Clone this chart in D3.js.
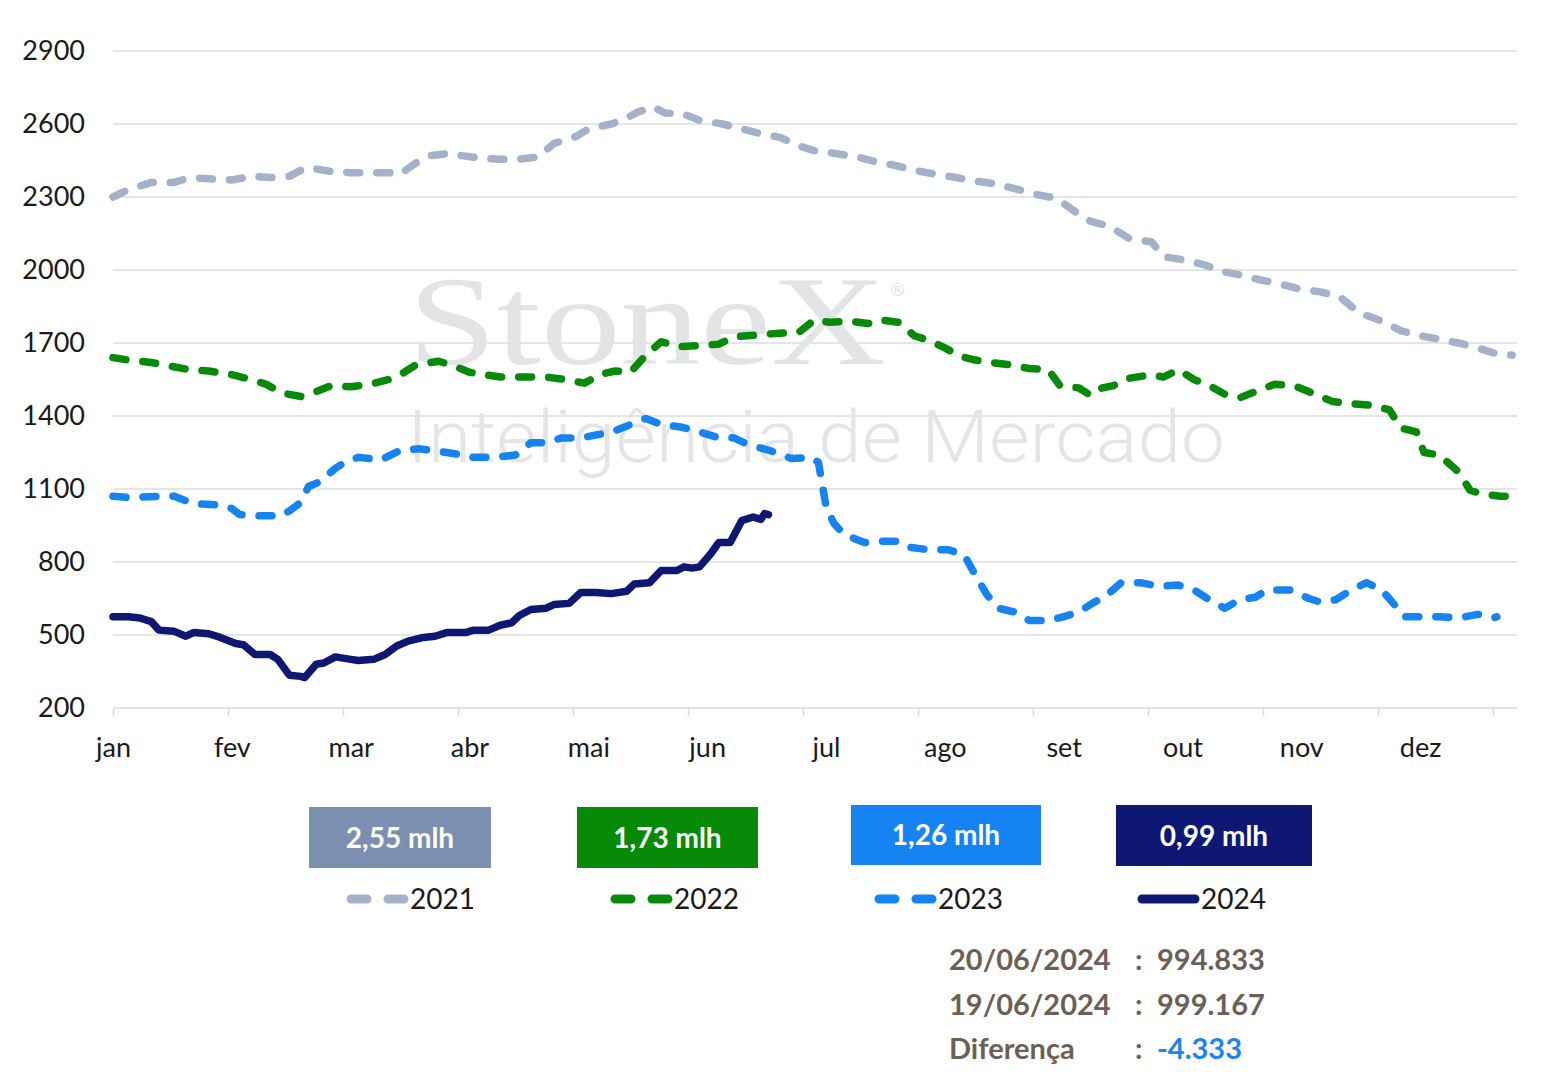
<!DOCTYPE html>
<html><head><meta charset="utf-8">
<script src="https://cdn.jsdelivr.net/npm/d3@7"></script>
<style>
html,body{margin:0;padding:0;background:#fff;}
</style></head>
<body>
<svg id="chart" width="1551" height="1076" style="font-family:Lato,'Noto Sans',sans-serif"></svg>
<script>
// ---------- DATA ----------
const monthLabels = ["jan","fev","mar","abr","mai","jun","jul","ago","set","out","nov","dez"];
const monthLabelDays = [0,31,62,93,124,155,186,217,248,279,310,341];
const tickDays = [0,30,60,90,120,150,180,210,240,270,300,330,360];
const yTicks = [200,500,800,1100,1400,1700,2000,2300,2600,2900];

const days2021 = [0,4,10,16,20,25,31,36,41,46,49,51,57,62,67,72,75,79,83,88,91,96,101,106,111,115,121,124,130,134,137,141,144,149,153,159,164,169,174,179,183,188,194,199,204,209,214,220,225,230,235,241,246,251,255,260,265,271,274,280,285,289,294,299,304,310,315,320,325,331,336,341,346,351,356,361,365];
const vals2021 = [2300,2330,2360,2360,2380,2375,2370,2385,2380,2385,2410,2420,2405,2400,2400,2400,2395,2440,2470,2480,2470,2460,2455,2455,2465,2520,2550,2580,2600,2625,2650,2670,2645,2640,2615,2600,2580,2560,2545,2510,2490,2480,2465,2445,2430,2410,2395,2380,2365,2355,2335,2310,2295,2240,2200,2180,2130,2115,2055,2040,2020,1995,1980,1960,1945,1920,1910,1890,1825,1790,1750,1730,1715,1700,1680,1655,1650];

const days2022 = [0,4,10,15,20,25,31,36,40,44,49,53,57,62,67,72,75,79,85,89,93,101,106,113,118,123,127,131,135,139,143,148,153,158,162,169,174,179,183,187,192,197,200,205,209,213,217,221,225,229,234,239,244,247,252,255,258,261,265,271,274,278,282,286,290,294,298,303,308,312,318,323,328,333,336,340,342,346,351,354,357,362,365];
const vals2022 = [1640,1630,1620,1605,1590,1585,1570,1550,1530,1495,1480,1500,1525,1520,1530,1550,1570,1610,1625,1605,1580,1560,1560,1560,1550,1535,1570,1585,1580,1650,1705,1685,1690,1695,1725,1735,1740,1745,1795,1785,1790,1780,1795,1785,1730,1710,1680,1645,1630,1620,1610,1595,1590,1525,1515,1485,1515,1525,1555,1570,1560,1590,1550,1525,1490,1475,1500,1530,1525,1500,1460,1450,1445,1425,1350,1335,1250,1240,1170,1095,1080,1070,1070];

const days2023 = [0,4,12,16,21,27,31,33,38,44,46,49,51,54,58,61,64,70,75,80,85,91,94,100,105,109,113,117,122,127,131,135,139,143,148,153,157,162,166,171,177,182,184,186,188,190,192,196,200,205,208,213,218,222,225,228,231,235,239,244,248,252,256,259,263,268,273,278,282,286,290,294,298,301,307,312,315,319,323,327,331,334,337,341,346,351,356,360,361];
const vals2023 = [1070,1065,1070,1070,1040,1035,1020,995,990,990,1010,1045,1110,1130,1185,1215,1230,1220,1260,1265,1255,1240,1230,1230,1240,1290,1290,1310,1310,1325,1340,1365,1390,1365,1355,1335,1315,1310,1280,1260,1225,1230,1210,1030,960,925,905,880,885,885,860,850,850,830,745,665,610,595,560,560,575,595,635,660,715,715,700,705,685,645,610,645,655,685,685,650,635,645,685,715,685,630,575,575,575,570,585,570,575];

const days2024 = [0,4,7,10,12,16,19,21,25,28,32,34,37,41,43,46,49,50,53,55,58,62,64,68,71,74,77,81,84,87,92,94,98,101,104,106,109,113,115,119,122,126,130,134,136,140,143,147,149,151,153,156,158,161,164,167,169,170,171];
const vals2024 = [575,575,570,555,520,515,495,510,505,490,465,460,420,420,400,335,330,325,380,385,410,400,395,400,420,455,475,490,495,510,510,520,520,540,550,580,605,610,625,630,675,675,670,680,710,715,765,765,780,775,780,835,880,880,970,985,975,999.167,994.833];

const seriesNames = ["2021","2022","2023","2024"];
const seriesColors = ["#a3b2c8","#078a07","#1684f0","#0e1873"];
const boxColors = ["#7b90b0","#078a07","#1584f2","#0e1874"];
const boxLabels = ["2,55 mlh","1,73 mlh","1,26 mlh","0,99 mlh"];
const infoLabels = ["20/06/2024","19/06/2024","Diferença"];
const infoValues = ["994.833","999.167","-4.333"];

// ---------- CHART ----------
const svg = d3.select("#chart");
const x = d3.scaleLinear().domain([0,366]).range([113,1516]);
const y = d3.scaleLinear().domain([200,2900]).range([708,51]);

// gridlines
svg.append("g").selectAll("line").data(yTicks.slice(1)).join("line")
  .attr("x1",113).attr("x2",1517)
  .attr("y1",d=>y(d)).attr("y2",d=>y(d))
  .attr("stroke","#dcdcdc").attr("stroke-width",1.5);

// watermark
svg.append("text").attr("x",408).attr("y",364).style("font-family","'Liberation Serif','DejaVu Serif',serif")
  .attr("font-size",128).attr("fill","#e3e4e6").attr("textLength",478).attr("lengthAdjust","spacingAndGlyphs").text("StoneX");
svg.append("text").attr("x",890).attr("y",296).attr("font-size",18).attr("fill","#e3e4e6").text("®");
svg.append("text").attr("x",407).attr("y",462).style("font-family","Roboto,Lato,sans-serif").attr("font-weight",300)
  .attr("font-size",72).attr("fill","#e4e5e7").attr("textLength",818).attr("lengthAdjust","spacingAndGlyphs").text("Inteligência de Mercado");

// x axis
const xAxis = svg.append("g").attr("transform","translate(0,708)")
  .call(d3.axisBottom(x).tickValues(tickDays).tickSize(8).tickFormat(""));
xAxis.select(".domain").attr("stroke","#d9d9d9").attr("stroke-width",1.5).attr("d","M113,0H1517");
xAxis.selectAll(".tick line").attr("stroke","#d9d9d9").attr("stroke-width",1.5);

const xLab = svg.append("g").attr("transform","translate(0,708)")
  .call(d3.axisBottom(x).tickValues(monthLabelDays).tickSize(0).tickPadding(30).tickFormat((d,i)=>monthLabels[i]));
xLab.select(".domain").remove();
xLab.selectAll("text").style("font-family","Lato,sans-serif").attr("font-size",27).attr("fill","#1a1a1a");

// y axis
const yAx = svg.append("g").attr("transform","translate(113,0)")
  .call(d3.axisLeft(y).tickValues(yTicks).tickSize(0).tickPadding(28).tickFormat(d3.format("d")));
yAx.select(".domain").remove();
yAx.selectAll("text").style("font-family","Lato,sans-serif").attr("font-size",27).attr("fill","#1a1a1a");

// lines
const allDays = [days2021,days2022,days2023,days2024];
const allVals = [vals2021,vals2022,vals2023,vals2024];
const line = d3.line().x(d=>x(d[0])).y(d=>y(d[1]));
allDays.forEach((ds,i)=>{
  const pts = ds.map((d,j)=>[d,allVals[i][j]]);
  const p = svg.append("path").datum(pts).attr("d",line)
    .attr("fill","none").attr("stroke",seriesColors[i])
    .attr("stroke-width",i===3?7.5:7.5).attr("stroke-linecap","round").attr("stroke-linejoin","round");
  if(i<3) p.attr("stroke-dasharray","13,17");
});

// boxes
const boxX = [309,577,851,1116];
const boxW = [182,181,190,196];
const boxY = [807,807,805,805];
const boxH = [61,61,60,61];
boxLabels.forEach((t,i)=>{
  svg.append("rect").attr("x",boxX[i]).attr("y",boxY[i]).attr("width",boxW[i]).attr("height",boxH[i]).attr("fill",boxColors[i]);
  svg.append("text").attr("x",boxX[i]+boxW[i]/2).attr("y",boxY[i]+boxH[i]/2+10)
    .attr("text-anchor","middle").attr("font-size",28).attr("font-weight",700).attr("fill","#fff").text(t);
});

// legend
const legX = [346,610,874,1137];
seriesNames.forEach((n,i)=>{
  const g = svg.append("g");
  g.append("line").attr("x1",legX[i]+5).attr("x2",legX[i]+58).attr("y1",899).attr("y2",899)
    .attr("stroke",seriesColors[i]).attr("stroke-width",9).attr("stroke-linecap","round")
    .attr("stroke-dasharray",i<3?"16,21":null);
  g.append("text").attr("x",legX[i]+64).attr("y",909).attr("font-size",28).attr("fill","#1a1a1a").text(n);
});

// info text
const infoY = [970,1015,1059];
infoLabels.forEach((t,i)=>{
  svg.append("text").attr("x",949).attr("y",infoY[i]).attr("font-size",29).attr("font-weight",700).attr("fill","#6c5f56").text(t);
  svg.append("text").attr("x",1135).attr("y",infoY[i]).attr("font-size",29).attr("font-weight",700).attr("fill","#6c5f56").text(":");
  svg.append("text").attr("x",1157).attr("y",infoY[i]).attr("font-size",29).attr("font-weight",700)
    .attr("fill",i===2?"#1a84f0":"#6c5f56").text(infoValues[i]);
});
</script>
</body></html>
